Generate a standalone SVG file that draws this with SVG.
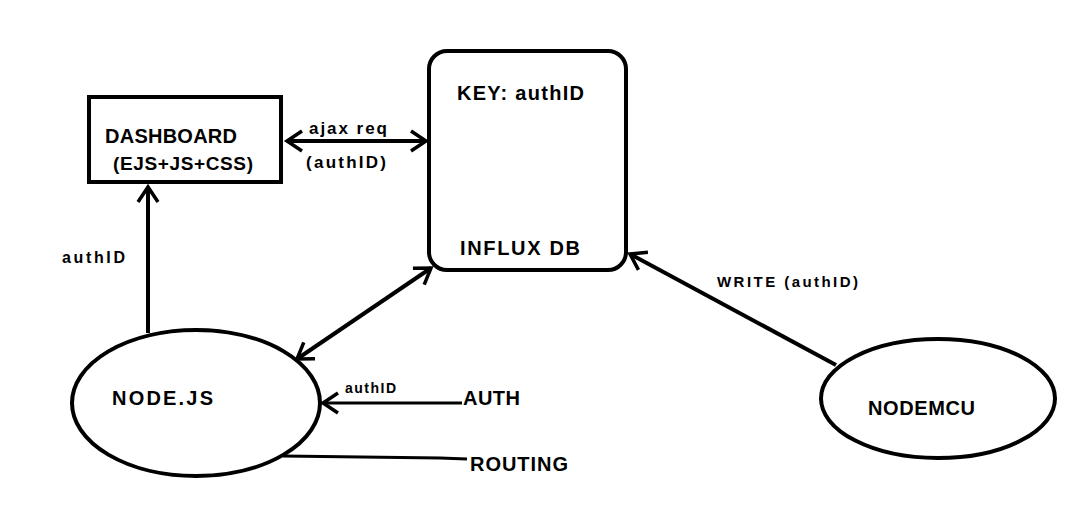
<svg xmlns="http://www.w3.org/2000/svg" width="1080" height="530" viewBox="0 0 1080 530">
<defs>
<style>
.node{fill:#fff;stroke:#000;stroke-width:4}
.t{font-family:"Liberation Sans",Arial,sans-serif;font-weight:bold;fill:#000}
.c{fill:none;stroke:#000;stroke-width:4}
.thin{stroke-width:3}
</style>
<marker id="ah" markerUnits="userSpaceOnUse" markerWidth="40" markerHeight="40" refX="0" refY="0" viewBox="-20 -20 40 40" orient="auto-start-reverse" overflow="visible">
<path d="M-15,-10 L0,0 L-15,10" fill="none" stroke="#000" stroke-width="3.5" stroke-linejoin="miter"/>
</marker>
</defs>
<rect width="1080" height="530" fill="#fff"/>
<g id="connectors">
<line class="c" x1="287" y1="141" x2="426" y2="141" marker-start="url(#ah)" marker-end="url(#ah)"/>
<line class="c" x1="148" y1="333" x2="148" y2="187" marker-end="url(#ah)"/>
<line class="c" x1="297" y1="359" x2="431" y2="268" marker-start="url(#ah)" marker-end="url(#ah)"/>
<line class="c thin" x1="462" y1="403" x2="323" y2="403" marker-end="url(#ah)"/>
<polyline class="c thin" points="283,456 440,458 467,459"/>
<line class="c" x1="836" y1="365" x2="630" y2="254" marker-end="url(#ah)"/>
<text class="t" x="309" y="134" font-size="17" textLength="78">ajax req</text>
<text class="t" x="306" y="168" font-size="17" textLength="80">(authID)</text>
<text class="t" x="62" y="263" font-size="16" textLength="63">authID</text>
<text class="t" x="345" y="393" font-size="14" textLength="51">authID</text>
<text class="t" x="717" y="287" font-size="15" textLength="141">WRITE (authID)</text>
</g>
<g id="dashboard">
<rect class="node" x="89" y="97" width="192" height="85"/>
<text class="t" x="105" y="143" font-size="20" textLength="132">DASHBOARD</text>
<text class="t" x="113" y="170" font-size="19" textLength="140">(EJS+JS+CSS)</text>
</g>
<g id="influxdb">
<rect class="node" x="429" y="51" width="197" height="219" rx="18" ry="18"/>
<text class="t" x="457" y="100" font-size="20" textLength="127">KEY: authID</text>
<text class="t" x="460" y="255" font-size="20" textLength="120">INFLUX DB</text>
</g>
<g id="nodejs">
<ellipse class="node" cx="196" cy="403" rx="124" ry="73"/>
<text class="t" x="112" y="405" font-size="20" textLength="101">NODE.JS</text>
</g>
<g id="auth">
<text class="t" x="463" y="405" font-size="20" textLength="57">AUTH</text>
</g>
<g id="routing">
<text class="t" x="470" y="471" font-size="20" textLength="98">ROUTING</text>
</g>
<g id="nodemcu">
<ellipse class="node" cx="938" cy="398.5" rx="117" ry="59.5"/>
<text class="t" x="868" y="415" font-size="20" textLength="107">NODEMCU</text>
</g>
</svg>
